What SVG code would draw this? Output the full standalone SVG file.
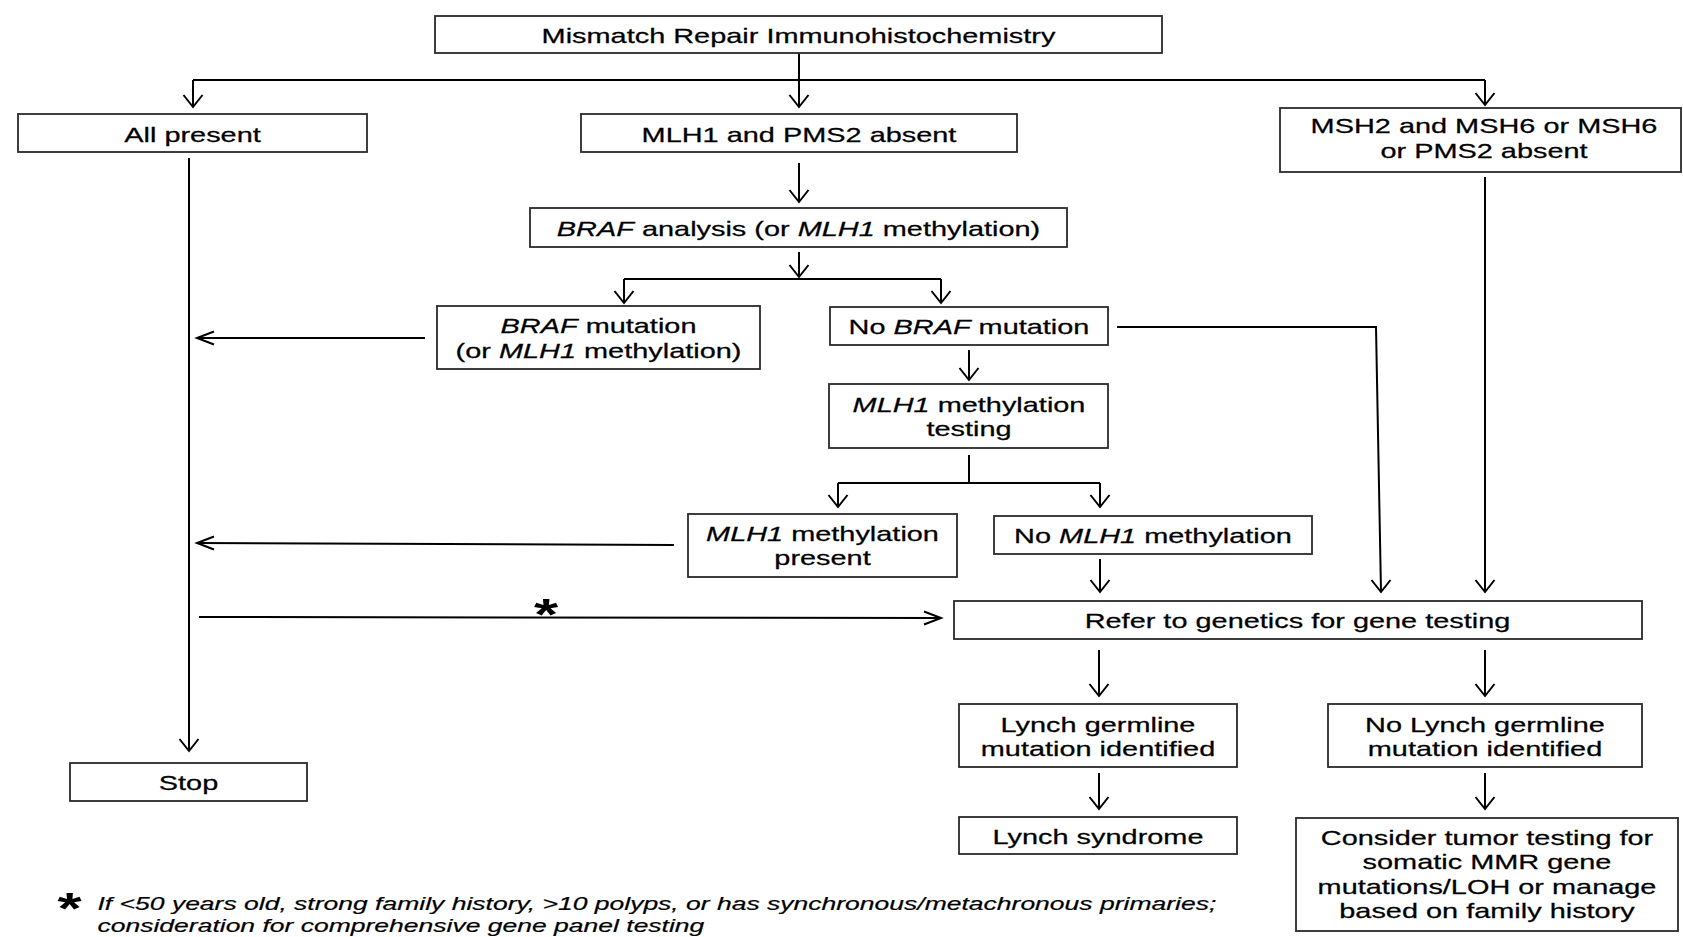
<svg xmlns="http://www.w3.org/2000/svg" width="1683" height="937" viewBox="0 0 1683 937">
<style>
.box{fill:#fff;stroke:#2a2a2a;stroke-width:1.8}
.t{font-family:"Liberation Sans",Arial,sans-serif;font-size:20.5px;text-anchor:middle;fill:#000;stroke:#000;stroke-width:0.25}
.fn{font-family:"Liberation Sans",Arial,sans-serif;font-size:18.8px;font-style:italic;fill:#000;stroke:#000;stroke-width:0.2}
.ast{font-family:"Liberation Sans",Arial,sans-serif;font-size:44px;font-weight:bold;text-anchor:middle;fill:#000}
.i{font-style:italic}
.c{fill:none;stroke:#000;stroke-width:2}
.dn{marker-end:url(#aDown)}
.lf{marker-end:url(#aLeft)}
.rt{marker-end:url(#aRight)}
</style>
<defs>
<marker id="aDown" markerUnits="userSpaceOnUse" refX="0" refY="0" markerWidth="24" markerHeight="16" orient="0" overflow="visible"><path d="M-9.5,-12 L0,0 L9.5,-12" fill="none" stroke="#000" stroke-width="2"/></marker>
<marker id="aLeft" markerUnits="userSpaceOnUse" refX="0" refY="0" markerWidth="20" markerHeight="16" orient="0" overflow="visible"><path d="M17,-6.5 L0,0 L17,6.5" fill="none" stroke="#000" stroke-width="2"/></marker>
<marker id="aRight" markerUnits="userSpaceOnUse" refX="0" refY="0" markerWidth="20" markerHeight="16" orient="0" overflow="visible"><path d="M-17,-6.5 L0,0 L-17,6.5" fill="none" stroke="#000" stroke-width="2"/></marker>
</defs>
<rect width="1683" height="937" fill="#fff"/>

<g id="connectors">
<path class="c dn" d="M799,53 V107"/>
<path class="c" d="M193,80 H1485"/>
<path class="c dn" d="M193,80 V107"/>
<path class="c dn" d="M1485,80 V105"/>
<path class="c dn" d="M189,158 V751"/>
<path class="c dn" d="M799,163 V202"/>
<path class="c dn" d="M799,252 V277"/>
<path class="c" d="M624,279 H941"/>
<path class="c dn" d="M624,279 V303"/>
<path class="c dn" d="M941,279 V303"/>
<path class="c lf" d="M425,338 H197"/>
<path class="c dn" d="M969,350 V380"/>
<path class="c dn" d="M1117,327 H1376 L1381,592"/>
<path class="c" d="M969,455 V483"/>
<path class="c" d="M838,483 H1100"/>
<path class="c dn" d="M838,483 V507"/>
<path class="c dn" d="M1100,483 V507"/>
<path class="c lf" d="M674,545 L197,543"/>
<path class="c dn" d="M1100,559 V592"/>
<path class="c dn" d="M1485,177 V592"/>
<path class="c rt" d="M199,617 L941,618"/>
<path class="c dn" d="M1099,650 V696"/>
<path class="c dn" d="M1485,650 V696"/>
<path class="c dn" d="M1099,773 V809"/>
<path class="c dn" d="M1485,773 V809"/>
<text class="ast" transform="translate(546,630) scale(1.41,1)">*</text>
</g>

<g id="n-mmr">
<rect class="box" x="435" y="16" width="727" height="37"/>
<text class="t" transform="translate(798.5,43) scale(1.41,1)">Mismatch Repair Immunohistochemistry</text>
</g>
<g id="n-allpresent">
<rect class="box" x="18" y="114" width="349" height="38"/>
<text class="t" transform="translate(192.5,141.5) scale(1.41,1)">All present</text>
</g>
<g id="n-mlh1pms2">
<rect class="box" x="581" y="114" width="436" height="38"/>
<text class="t" transform="translate(799,141.5) scale(1.41,1)">MLH1 and PMS2 absent</text>
</g>
<g id="n-msh2">
<rect class="box" x="1280" y="108" width="401" height="64"/>
<text class="t" transform="translate(1484,133) scale(1.41,1)">MSH2 and MSH6 or MSH6<tspan x="0" y="25">or PMS2 absent</tspan></text>
</g>
<g id="n-braf-analysis">
<rect class="box" x="530" y="208" width="537" height="39"/>
<text class="t" transform="translate(798.5,236) scale(1.41,1)"><tspan class="i">BRAF</tspan> analysis (or <tspan class="i">MLH1</tspan> methylation)</text>
</g>
<g id="n-braf-mut">
<rect class="box" x="437" y="306" width="323" height="63"/>
<text class="t" transform="translate(598.5,333) scale(1.41,1)"><tspan class="i">BRAF</tspan> mutation<tspan x="0" y="25">(or <tspan class="i">MLH1</tspan> methylation)</tspan></text>
</g>
<g id="n-no-braf">
<rect class="box" x="830" y="307" width="278" height="38"/>
<text class="t" transform="translate(969,333.5) scale(1.41,1)">No <tspan class="i">BRAF</tspan> mutation</text>
</g>
<g id="n-mlh1-testing">
<rect class="box" x="829" y="384" width="279" height="64"/>
<text class="t" transform="translate(969,411.5) scale(1.41,1)"><tspan class="i">MLH1</tspan> methylation<tspan x="0" y="24.5">testing</tspan></text>
</g>
<g id="n-mlh1-present">
<rect class="box" x="688" y="514" width="269" height="63"/>
<text class="t" transform="translate(822.5,541) scale(1.41,1)"><tspan class="i">MLH1</tspan> methylation<tspan x="0" y="24.5">present</tspan></text>
</g>
<g id="n-no-mlh1">
<rect class="box" x="994" y="516" width="318" height="38"/>
<text class="t" transform="translate(1153,543) scale(1.41,1)">No <tspan class="i">MLH1</tspan> methylation</text>
</g>
<g id="n-refer">
<rect class="box" x="954" y="601" width="688" height="38"/>
<text class="t" transform="translate(1297.5,628) scale(1.41,1)">Refer to genetics for gene testing</text>
</g>
<g id="n-lynch-germline">
<rect class="box" x="959" y="704" width="278" height="63"/>
<text class="t" transform="translate(1098,731.5) scale(1.41,1)">Lynch germline<tspan x="0" y="24.5">mutation identified</tspan></text>
</g>
<g id="n-no-lynch">
<rect class="box" x="1328" y="704" width="314" height="63"/>
<text class="t" transform="translate(1485,731.5) scale(1.41,1)">No Lynch germline<tspan x="0" y="24.5">mutation identified</tspan></text>
</g>
<g id="n-lynch-syndrome">
<rect class="box" x="959" y="817" width="278" height="37"/>
<text class="t" transform="translate(1098,843.5) scale(1.41,1)">Lynch syndrome</text>
</g>
<g id="n-consider">
<rect class="box" x="1296" y="818" width="382" height="113"/>
<text class="t" transform="translate(1487,845) scale(1.41,1)">Consider tumor testing for<tspan x="0" y="24.5">somatic MMR gene</tspan><tspan x="0" y="49">mutations/LOH or manage</tspan><tspan x="0" y="73.5">based on family history</tspan></text>
</g>
<g id="n-stop">
<rect class="box" x="70" y="763" width="237" height="38"/>
<text class="t" transform="translate(188.5,790) scale(1.41,1)">Stop</text>
</g>

<g id="footnote">
<text class="ast" transform="translate(69.5,924) scale(1.41,1)">*</text>
<text class="fn" transform="translate(97.5,910) scale(1.41,1)">If &lt;50 years old, strong family history, &gt;10 polyps, or has synchronous/metachronous primaries;<tspan x="0" y="22">consideration for comprehensive gene panel testing</tspan></text>
</g>
</svg>
